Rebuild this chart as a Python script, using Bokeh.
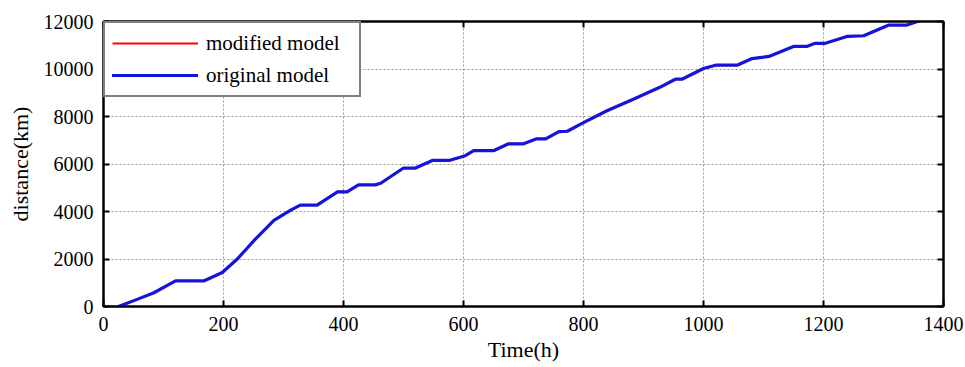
from bokeh.plotting import figure
from bokeh.models import LinearAxis, FixedTicker, Range1d, Legend, LegendItem
from bokeh.embed import file_html
from bokeh.resources import INLINE

# data
time_h = [25, 56, 84, 120, 167, 198, 223, 251, 284, 312, 328, 356, 390, 406, 425, 453, 462,
          500, 520, 548, 576, 603, 617, 650, 675, 700, 722, 737, 759, 773, 800, 839, 884,
          928, 953, 964, 1000, 1020, 1056, 1081, 1109, 1150, 1172, 1186, 1203, 1239, 1267,
          1309, 1339, 1364, 1380]
distance_original = [0, 300, 580, 1075, 1075, 1430, 2000, 2780, 3630, 4055, 4270, 4270, 4830,
                     4830, 5120, 5120, 5190, 5830, 5830, 6150, 6150, 6350, 6560, 6560, 6850,
                     6850, 7060, 7060, 7360, 7380, 7740, 8240, 8740, 9240, 9570, 9570, 10020,
                     10160, 10160, 10440, 10530, 10950, 10950, 11080, 11080, 11370, 11400,
                     11850, 11850, 12060, 12200]
distance_modified = list(distance_original)
x_ticks = [0, 200, 400, 600, 800, 1000, 1200, 1400]
y_ticks = [0, 2000, 4000, 6000, 8000, 10000, 12000]
series_labels = ["modified model", "original model"]

FONT = "Liberation Serif"

p = figure(width=965, height=367, output_backend="svg", toolbar_location=None,
           x_range=Range1d(0, 1400), y_range=Range1d(0, 12000),
           min_border_left=103, min_border_right=22, min_border_top=21,
           min_border_bottom=61, x_axis_label="Time(h)", y_axis_label="distance(km)")
p.background_fill_color = "white"
p.border_fill_color = "white"
p.outline_line_color = "black"
p.outline_line_width = 2

for ax, ticks in ((p.xaxis[0], x_ticks), (p.yaxis[0], y_ticks)):
    ax.ticker = FixedTicker(ticks=ticks)
    ax.major_tick_in = 6
    ax.major_tick_out = 0
    ax.minor_tick_line_color = None
    ax.axis_line_width = 2
    ax.axis_line_color = "black"
    ax.major_tick_line_width = 2
    ax.major_tick_line_color = "black"
    ax.major_label_text_font = FONT
    ax.major_label_text_font_size = "20px"
    ax.major_label_text_color = "black"
    ax.axis_label_text_font = FONT
    ax.axis_label_text_font_size = "22px"
    ax.axis_label_text_font_style = "normal"
    ax.axis_label_text_color = "black"
    ax.major_label_standoff = 10

p.xaxis[0].axis_label_standoff = 3
p.yaxis[0].axis_label_standoff = 8

for loc, ticks in (("above", x_ticks), ("right", y_ticks)):
    ax = LinearAxis(ticker=FixedTicker(ticks=ticks), major_label_text_color=None,
                    major_label_text_font_size="1px",
                    major_tick_in=6, major_tick_out=0, minor_tick_line_color=None,
                    axis_line_width=2, major_tick_line_width=2, major_label_standoff=0)
    p.add_layout(ax, loc)

p.xgrid.ticker = FixedTicker(ticks=x_ticks)
p.ygrid.ticker = FixedTicker(ticks=y_ticks)
for g in (p.xgrid[0], p.ygrid[0]):
    g.grid_line_color = "#999999"
    g.grid_line_dash = "2 2"
    g.grid_line_width = 1

r1 = p.line(time_h, distance_modified, line_color="#ff0000", line_width=2, line_join="round")
r2 = p.line(time_h, distance_original, line_color="#1414dc", line_width=3.2, line_join="round",
            line_cap="round")

legend = Legend(items=[LegendItem(label=series_labels[0], renderers=[r1]),
                       LegendItem(label=series_labels[1], renderers=[r2])],
                location="top_left", margin=0, padding=7, spacing=6,
                label_height=26, glyph_height=26, glyph_width=86, label_standoff=8,
                label_width=146, label_text_font=FONT, label_text_font_size="21px",
                label_text_color="black", border_line_color="black", border_line_width=2,
                background_fill_color="white", background_fill_alpha=1.0)
p.add_layout(legend)

open("out.html", "w").write(file_html(p, INLINE))
